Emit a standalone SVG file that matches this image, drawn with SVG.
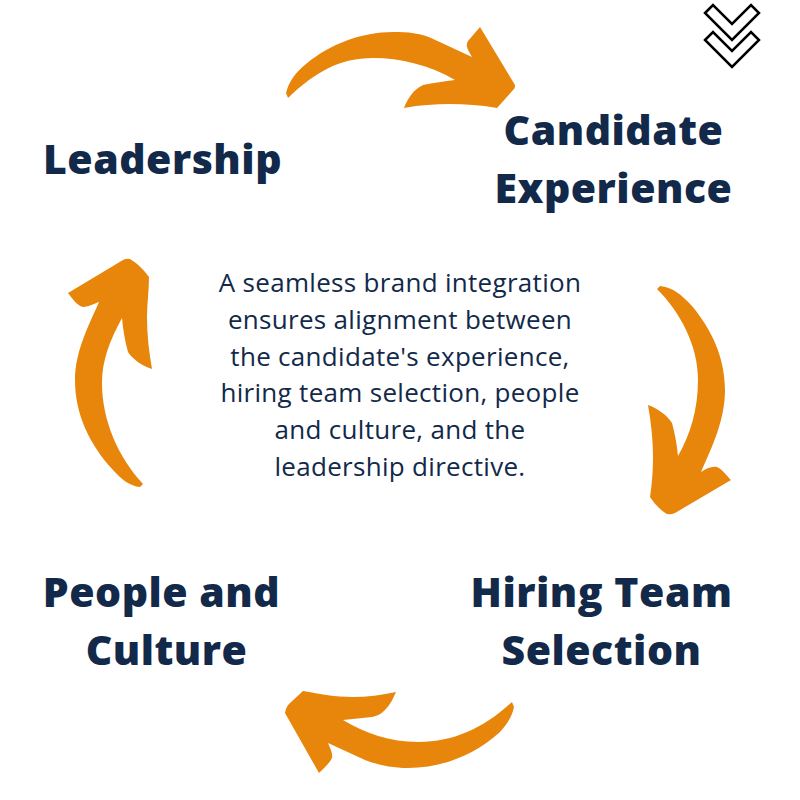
<svg xmlns="http://www.w3.org/2000/svg" width="800" height="800" viewBox="0 0 800 800">
<style>
.h{font-family:"Open Sans","Liberation Sans",sans-serif;font-weight:800;font-size:41px;letter-spacing:.5px;fill:#12294a;text-anchor:middle}
.b{font-family:"Open Sans","Liberation Sans",sans-serif;font-size:26px;letter-spacing:.3px;fill:#12294a;text-anchor:middle}
.a{fill:#e8860c}
.c{fill:#fff;stroke:#000;stroke-width:2.5;stroke-linejoin:miter}
</style>
<rect width="800" height="800" fill="#fff"/>
<g id="connectors">
<path class="a" d="M286 93C289 81 296 72 306 64C330 44 362 32 393 32C408 32 420 33 431 38L472 57C468 50 465 46 468 41L480 27L515 85Q515 89 513 90L497 108C480 105 465 104 450 104C435 104 420 105 404 108C408 98 413 90 423 85C433 83 445 81 455 80C430 65 400 58 373 58C340 58 315 72 288 98Z"/>
<path class="a" d="M657 289L660 286C672 287 682 295 692 306C712 330 725 358 725 390C725 420 712 447 701 472C706 469 711 466 717 467C722 469 727 476 731 480L675 513Q671 515 667 514C660 510 654 503 650 497C652 484 653 470 653 457C653 440 651 422 648 405C657 408 667 415 672 423C675 434 677 445 678 456C690 435 698 410 698 380C698 345 680 312 657 289Z"/>
<path class="a" d="M512 702L514 707C512 717 507 724 500 732C475 755 442 768 408 768C392 768 378 765 365 760L328 743C330 748 333 753 332 758C329 764 324 768 319 773L285 713Q286 707 289 704L303 691C320 694 336 697 352 697C367 697 382 695 396 692C393 699 390 705 385 710C381 714 377 716 372 717L343 720C365 733 390 742 418 742C455 742 485 727 512 702Z"/>
<path class="a" d="M143 484L140 487C130 486 122 480 113 470C90 445 75 415 75 380C75 352 88 327 99 302C93 304 88 307 83 307C77 306 72 298 68 293L123 260Q127 258 130 259C137 263 144 270 149 277C149 290 147 304 147 317C147 335 149 352 152 369C143 366 133 360 128 352C125 341 123 330 122 318C110 340 102 360 102 383C102 420 118 457 143 484Z"/>
</g>
<g id="chevrons">
<path class="c" d="M705 13L713 5L732 24L751 5L759 13L732 40Z"/>
<path class="c" d="M705 40L713 32L732 51L751 32L759 40L732 67Z"/>
</g>
<g id="leadership"><text class="h" x="162.500" y="174">Leadership</text></g>
<g id="candidate-experience"><text class="h" x="613.500" y="145">Candidate</text><text class="h" x="613.500" y="203">Experience</text></g>
<g id="hiring-team-selection"><text class="h" x="601.500" y="607">Hiring Team</text><text class="h" x="601.500" y="665">Selection</text></g>
<g id="people-and-culture"><text class="h" x="161.500" y="607">People and</text><text class="h" x="166.500" y="665">Culture</text></g>
<g id="description">
<text class="b" x="400" y="292">A seamless brand integration</text>
<text class="b" x="400" y="329">ensures alignment between</text>
<text class="b" x="400" y="366">the candidate's experience,</text>
<text class="b" x="400" y="402">hiring team selection, people</text>
<text class="b" x="400" y="439">and culture, and the</text>
<text class="b" x="400" y="476">leadership directive.</text>
</g>
</svg>
